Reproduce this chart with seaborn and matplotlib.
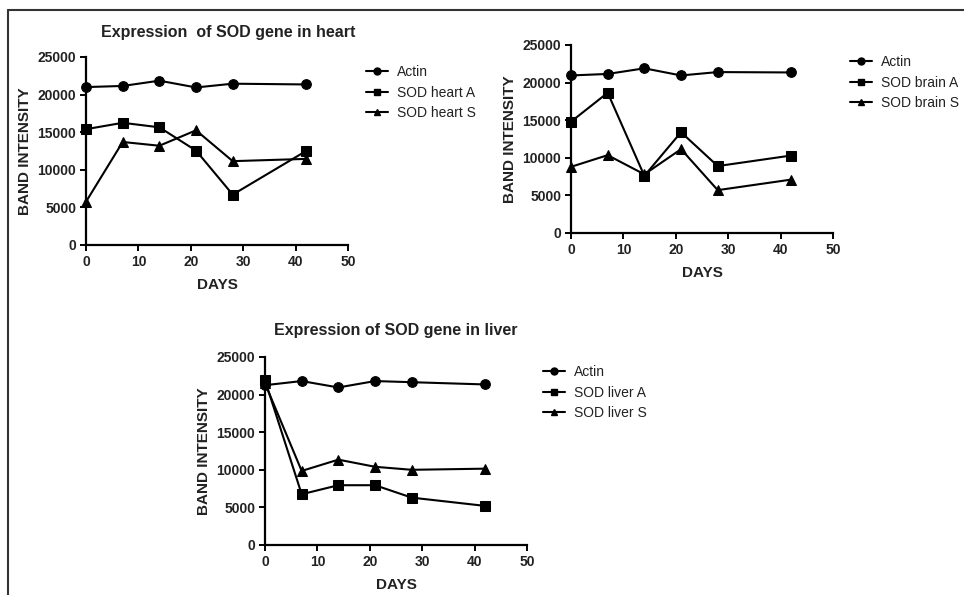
import matplotlib
matplotlib.use("Agg")
import matplotlib.pyplot as plt
from matplotlib.lines import Line2D
import seaborn as sns
import pandas as pd

# days sampled
days = [0, 7, 14, 21, 28, 42]

# heart
heart_actin = [21000, 21150, 21850, 20950, 21450, 21350]
heart_a = [15400, 16250, 15650, 12550, 6700, 12500]
heart_s = [5750, 13700, 13200, 15250, 11150, 11450]

# brain
brain_actin = [20950, 21150, 21900, 20950, 21400, 21350]
brain_a = [14800, 18650, 7600, 13400, 8900, 10300]
brain_s = [8800, 10350, 7800, 11150, 5700, 7100]

# liver
liver_actin = [21250, 21800, 20950, 21800, 21650, 21350]
liver_a = [21900, 6750, 7950, 7950, 6300, 5200]
liver_s = [21500, 9850, 11350, 10400, 10000, 10150]

x_ticks = [0, 10, 20, 30, 40, 50]
y_ticks = [0, 5000, 10000, 15000, 20000, 25000]

sns.set_style("white")
plt.rcParams["font.family"] = ["Liberation Sans", "DejaVu Sans"]

fig = plt.figure(figsize=(9.64, 5.95), dpi=100)
W, H = 964, 595


def px_axes(left, top, right, bottom):
    return fig.add_axes([left / W, 1 - bottom / H, (right - left) / W, (bottom - top) / H])


marker_map = {0: "o", 1: "s", 2: "^"}


def panel(ax, actin, a, s, names, leg_x, leg_y):
    df = pd.DataFrame({
        "day": days * 3,
        "value": actin + a + s,
        "series": [names[0]] * 6 + [names[1]] * 6 + [names[2]] * 6,
    })
    sns.lineplot(data=df, x="day", y="value", style="series",
                 markers={names[0]: "o", names[1]: "s", names[2]: "^"},
                 dashes=False, color="black", linewidth=1.5, markersize=7,
                 markeredgecolor="black", ax=ax, legend=False, clip_on=False)
    ax.set_xlim(0, 50)
    ax.set_ylim(0, 25000)
    ax.set_xticks(x_ticks)
    ax.set_yticks(y_ticks)
    for sp in ["top", "right"]:
        ax.spines[sp].set_visible(False)
    for sp in ["left", "bottom"]:
        ax.spines[sp].set_linewidth(1.6)
        ax.spines[sp].set_color("black")
    ax.tick_params(direction="out", length=4, width=1.4, colors="black",
                   labelsize=10, pad=3, left=True, bottom=True)
    for lab in ax.get_xticklabels() + ax.get_yticklabels():
        lab.set_fontweight("bold")
        lab.set_color("#222222")
    ax.set_xlabel("DAYS", fontsize=11, fontweight="bold", color="#222222", labelpad=7)
    ax.set_ylabel("BAND INTENSITY", fontsize=11, fontweight="bold", color="#222222", labelpad=4)
    handles = [Line2D([0], [0], color="black", lw=1.5, marker=marker_map[i], markersize=5)
               for i in range(3)]
    fig.legend(handles, names, loc="upper left", bbox_to_anchor=(leg_x / W, 1 - leg_y / H),
               frameon=False, fontsize=10, handlelength=1.6, handletextpad=0.6,
               labelspacing=0.47, borderaxespad=0, borderpad=0, labelcolor="#222222")


ax1 = px_axes(86, 57, 348, 245)
panel(ax1, heart_actin, heart_a, heart_s, ["Actin", "SOD heart A", "SOD heart S"], 366, 65)
fig.text(228 / W, 1 - 32 / H, "Expression  of SOD gene in heart", ha="center", va="center",
         fontsize=11.5, fontweight="bold", color="#222222")

ax2 = px_axes(571, 45, 833, 233)
panel(ax2, brain_actin, brain_a, brain_s, ["Actin", "SOD brain A", "SOD brain S"], 850, 55)

ax3 = px_axes(265, 357, 527, 545)
panel(ax3, liver_actin, liver_a, liver_s, ["Actin", "SOD liver A", "SOD liver S"], 543, 365)
fig.text(396 / W, 1 - 330 / H, "Expression of SOD gene in liver", ha="center", va="center",
         fontsize=11.5, fontweight="bold", color="#222222")

# frame lines at top and left
fig.add_artist(Line2D([8 / W, 1], [1 - 10 / H, 1 - 10 / H], color="#333333", lw=1.5))
fig.add_artist(Line2D([8 / W, 8 / W], [0, 1 - 10 / H], color="#333333", lw=1.5))

fig.savefig("out.png", dpi=100)
